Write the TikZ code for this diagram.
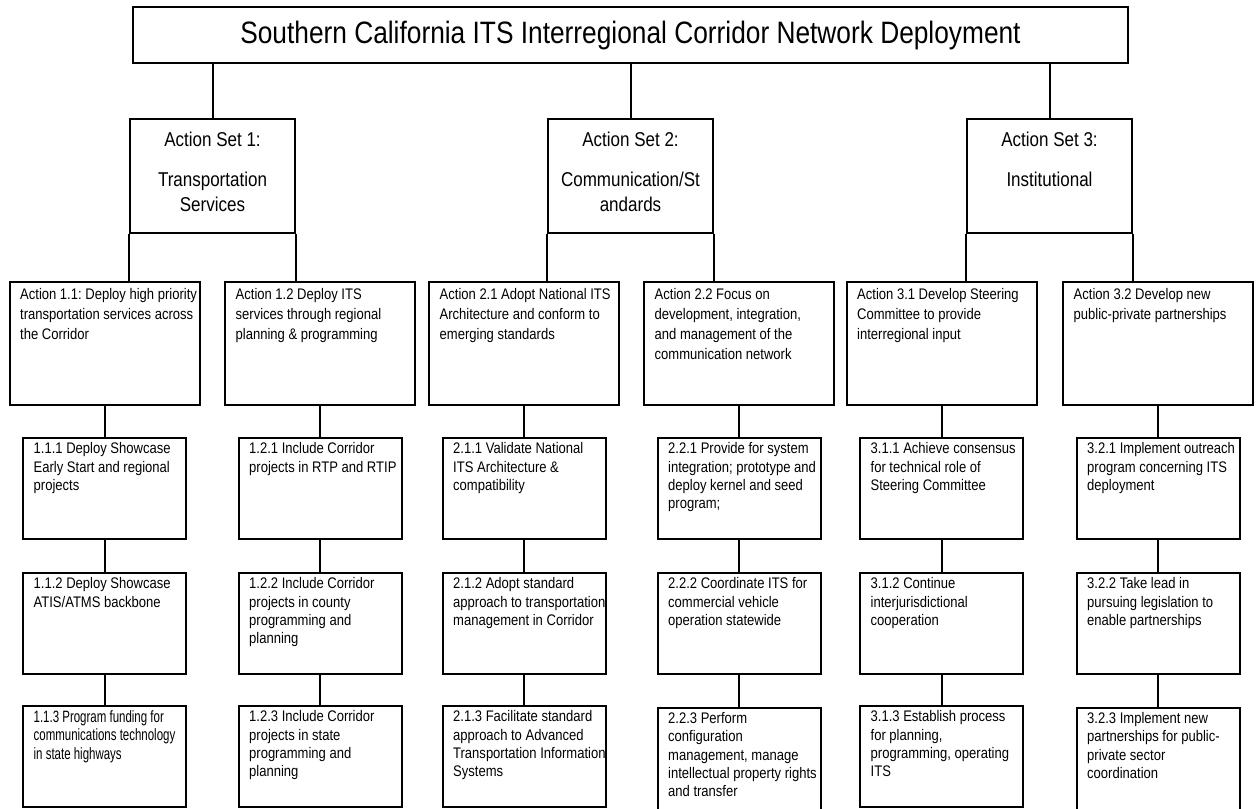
\documentclass[tikz,border=0pt]{standalone}
\usepackage{fontspec}
\setmainfont{Liberation Sans}[FakeStretch=0.85]
\newfontfamily\narrowfont{Liberation Sans}[FakeStretch=0.7]
\usepackage{tikz}

\begin{document}
\begin{tikzpicture}[x=0.75pt, y=-0.75pt, line width=1.5pt]
        \tikzstyle{titleStyle} = [draw=black, minimum width=746pt, minimum height=42pt, inner sep=0pt, font=\fontsize{23.2}{28}\selectfont]
        \tikzstyle{setStyle} = [draw=black, minimum width=123.75pt, minimum height=85.5pt, inner sep=0pt]
        \tikzstyle{actStyle} = [draw=black, minimum width=142.5pt, minimum height=92.25pt, inner sep=0pt]
        \tikzstyle{subStyle} = [draw=black, minimum width=122.25pt, minimum height=75.75pt, inner sep=0pt]
        \tikzstyle{setText} = [anchor=north, align=center, inner xsep=0pt, inner ysep=9.5pt, font=\fontsize{15}{18.75}\selectfont]
        \tikzstyle{actText} = [anchor=north west, align=left, inner xsep=8pt, inner ysep=5pt, font=\fontsize{11.5}{15}\selectfont]
        \tikzstyle{subText} = [anchor=north west, align=left, inner xsep=8pt, inner ysep=3.5pt, font=\fontsize{11.5}{13.75}\selectfont]
        \tikzstyle{blackEdge} = [draw=black, line width=1.5pt]
        \useasboundingbox (0,0) rectangle (1257,808);
        \clip (0,0) rectangle (1257,808);
        \node[titleStyle] (title) at (630.5,35) {Southern California ITS Interregional Corridor Network Deployment};
        \node[setStyle, label={[setText]north:{Action Set 1:\\[11.25pt]Transportation\\Services}}] (set1) at (212.5,176) {};
        \node[setStyle, label={[setText]north:{Action Set 2:\\[11.25pt]Communication/St\\andards}}] (set2) at (630.5,176) {};
        \node[setStyle, label={[setText]north:{Action Set 3:\\[11.25pt]Institutional}}] (set3) at (1049.5,176) {};
        \node[actStyle, label={[actText]north west:{Action~1.1:~Deploy~high~priority\\transportation services across\\the Corridor}}] (act11) at (104.5,343.5) {};
        \node[actStyle, label={[actText]north west:{Action 1.2 Deploy ITS\\services through regional\\planning \& programming}}] (act12) at (320,343.5) {};
        \node[actStyle, label={[actText]north west:{Action 2.1 Adopt National ITS\\Architecture and conform to\\emerging standards}}] (act21) at (524,343.5) {};
        \node[actStyle, label={[actText]north west:{Action 2.2 Focus on\\development, integration,\\and management of the\\communication network}}] (act22) at (739,343.5) {};
        \node[actStyle, label={[actText]north west:{Action 3.1 Develop Steering\\Committee to provide\\interregional input}}] (act31) at (941.5,343.5) {};
        \node[actStyle, label={[actText]north west:{Action 3.2 Develop new\\public-private partnerships}}] (act32) at (1158,343.5) {};
        \node[subStyle, label={[subText]north west:{1.1.1 Deploy Showcase\\Early Start and regional\\projects}}] (sub111) at (104.5,488.5) {};
        \node[subStyle, label={[subText]north west:{1.1.2 Deploy Showcase\\ATIS/ATMS backbone}}] (sub112) at (104.5,623.5) {};
        \node[subStyle, label={[subText, font=\fontsize{12.3}{13.75}\narrowfont]north west:{1.1.3 Program funding for\\communications~technology\\in state highways}}] (sub113) at (104.5,756.5) {};
        \node[subStyle, label={[subText]north west:{1.2.1 Include Corridor\\projects~in~RTP~and~RTIP}}] (sub121) at (320,488.5) {};
        \node[subStyle, label={[subText]north west:{1.2.2 Include Corridor\\projects in county\\programming and\\planning}}] (sub122) at (320,623.5) {};
        \node[subStyle, label={[subText]north west:{1.2.3 Include Corridor\\projects in state\\programming and\\planning}}] (sub123) at (320,756.5) {};
        \node[subStyle, label={[subText]north west:{2.1.1 Validate National\\ITS Architecture \&\\compatibility}}] (sub211) at (524,488.5) {};
        \node[subStyle, label={[subText]north west:{2.1.2 Adopt standard\\approach~to~transportation\\management in Corridor}}] (sub212) at (524,623.5) {};
        \node[subStyle, label={[subText]north west:{2.1.3 Facilitate standard\\approach to Advanced\\Transportation~Information\\Systems}}] (sub213) at (524,756.5) {};
        \node[subStyle, label={[subText]north west:{2.2.1 Provide for system\\integration; prototype and\\deploy kernel and seed\\program;}}] (sub221) at (739,488.5) {};
        \node[subStyle, label={[subText]north west:{2.2.2 Coordinate ITS for\\commercial vehicle\\operation statewide}}] (sub222) at (739,623.5) {};
        \node[subStyle, minimum height=82pt, label={[subText]north west:{2.2.3 Perform\\configuration\\management, manage\\intellectual property rights\\and transfer}}] (sub223) at (739,762.5) {};
        \node[subStyle, label={[subText]north west:{3.1.1 Achieve consensus\\for technical role of\\Steering Committee}}] (sub311) at (941.5,488.5) {};
        \node[subStyle, label={[subText]north west:{3.1.2 Continue\\interjurisdictional\\cooperation}}] (sub312) at (941.5,623.5) {};
        \node[subStyle, label={[subText]north west:{3.1.3 Establish process\\for planning,\\programming, operating\\ITS}}] (sub313) at (941.5,756.5) {};
        \node[subStyle, label={[subText]north west:{3.2.1 Implement outreach\\program concerning ITS\\deployment}}] (sub321) at (1158,488.5) {};
        \node[subStyle, label={[subText]north west:{3.2.2 Take lead in\\pursuing legislation to\\enable partnerships}}] (sub322) at (1158,623.5) {};
        \node[subStyle, minimum height=82pt, label={[subText]north west:{3.2.3 Implement new\\partnerships for public-\\private sector\\coordination}}] (sub323) at (1158,762.5) {};
        \foreach \s in {1,2,3}
            \path[blackEdge] (title.south -| set\s.north) edge (set\s.north);
        \foreach \s in {1,2,3} {
            \path[blackEdge] (set\s.south west) edge (set\s.south west |- act\s1.north);
            \path[blackEdge] (set\s.south east) edge (set\s.south east |- act\s2.north);
        }
        \foreach \a in {11,12,21,22,31,32}
            \path[blackEdge] (act\a.south) edge (sub\a1.north)
                             (sub\a1.south) edge (sub\a2.north)
                             (sub\a2.south) edge (sub\a3.north);
    \end{tikzpicture}
\end{document}
